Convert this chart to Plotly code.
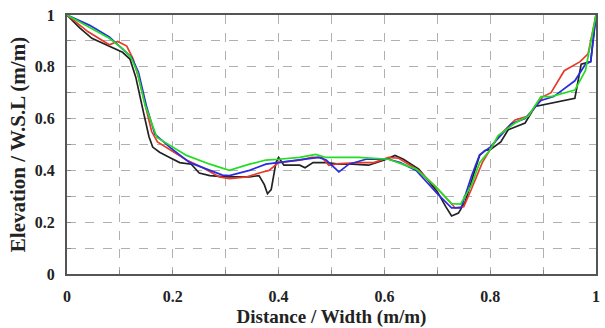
import plotly.graph_objects as go

black_x = [0, 0.024, 0.047, 0.075, 0.105, 0.119, 0.13, 0.145, 0.155, 0.162, 0.175, 0.194, 0.213, 0.235, 0.25, 0.27, 0.30, 0.345, 0.363, 0.373, 0.379, 0.386, 0.395, 0.40, 0.41, 0.44, 0.45, 0.465, 0.49, 0.514, 0.54, 0.57, 0.60, 0.62, 0.636, 0.665, 0.684, 0.70, 0.716, 0.727, 0.74, 0.753, 0.768, 0.78, 0.79, 0.80, 0.82, 0.834, 0.866, 0.885, 0.96, 0.972, 0.99, 1.0]
black_y = [1, 0.95, 0.91, 0.885, 0.856, 0.83, 0.76, 0.62, 0.53, 0.49, 0.47, 0.45, 0.43, 0.424, 0.39, 0.38, 0.375, 0.375, 0.38, 0.345, 0.31, 0.326, 0.43, 0.45, 0.42, 0.42, 0.41, 0.43, 0.43, 0.424, 0.424, 0.42, 0.44, 0.458, 0.443, 0.405, 0.36, 0.318, 0.26, 0.224, 0.235, 0.28, 0.38, 0.458, 0.477, 0.48, 0.51, 0.557, 0.583, 0.647, 0.678, 0.81, 0.82, 1.0]

red_x = [0, 0.04, 0.08, 0.096, 0.113, 0.125, 0.135, 0.15, 0.16, 0.171, 0.194, 0.226, 0.257, 0.288, 0.307, 0.34, 0.37, 0.382, 0.40, 0.44, 0.463, 0.482, 0.495, 0.51, 0.55, 0.58, 0.608, 0.627, 0.665, 0.70, 0.734, 0.75, 0.765, 0.785, 0.80, 0.815, 0.847, 0.872, 0.90, 0.915, 0.94, 0.97, 0.985, 1.0]
red_y = [1, 0.935, 0.885, 0.898, 0.88, 0.83, 0.76, 0.63, 0.55, 0.51, 0.48, 0.44, 0.41, 0.375, 0.368, 0.375, 0.394, 0.40, 0.43, 0.44, 0.45, 0.45, 0.42, 0.425, 0.43, 0.43, 0.45, 0.447, 0.40, 0.33, 0.255, 0.26, 0.33, 0.43, 0.48, 0.53, 0.595, 0.61, 0.685, 0.70, 0.785, 0.82, 0.85, 1.0]

blue_x = [0, 0.043, 0.08, 0.105, 0.122, 0.135, 0.15, 0.166, 0.194, 0.232, 0.264, 0.294, 0.307, 0.345, 0.376, 0.40, 0.458, 0.476, 0.49, 0.505, 0.514, 0.533, 0.565, 0.608, 0.63, 0.66, 0.70, 0.727, 0.745, 0.765, 0.78, 0.80, 0.84, 0.866, 0.896, 0.92, 0.96, 0.98, 0.99, 1.0]
blue_y = [1, 0.96, 0.915, 0.867, 0.837, 0.78, 0.65, 0.54, 0.49, 0.43, 0.405, 0.382, 0.38, 0.40, 0.424, 0.43, 0.443, 0.45, 0.44, 0.41, 0.394, 0.424, 0.443, 0.443, 0.43, 0.40, 0.31, 0.255, 0.255, 0.38, 0.46, 0.49, 0.58, 0.60, 0.67, 0.685, 0.746, 0.81, 0.82, 1.0]

green_x = [0, 0.04, 0.08, 0.105, 0.12, 0.133, 0.148, 0.17, 0.226, 0.27, 0.30, 0.307, 0.345, 0.376, 0.40, 0.44, 0.47, 0.49, 0.552, 0.608, 0.66, 0.697, 0.727, 0.744, 0.765, 0.78, 0.80, 0.815, 0.847, 0.872, 0.896, 0.915, 0.96, 0.98, 1.0]
green_y = [1, 0.955, 0.91, 0.87, 0.84, 0.78, 0.65, 0.527, 0.458, 0.424, 0.405, 0.40, 0.424, 0.44, 0.443, 0.45, 0.462, 0.45, 0.45, 0.443, 0.405, 0.337, 0.272, 0.27, 0.345, 0.43, 0.48, 0.534, 0.583, 0.61, 0.685, 0.685, 0.71, 0.785, 1.0]

tick_vals = [0, 0.2, 0.4, 0.6, 0.8, 1]
tick_text = ["0", "0.2", "0.4", "0.6", "0.8", "1"]

series = [
    (black_x, black_y, "#222222"),
    (red_x, red_y, "#e83a2a"),
    (blue_x, blue_y, "#2b2be0"),
    (green_x, green_y, "#22dd22"),
]

fig = go.Figure()
for xs, ys, c in series:
    fig.add_trace(go.Scatter(x=xs, y=ys, mode="lines", line=dict(color=c, width=1.7), showlegend=False))

font_fam = "Liberation Serif"
axis_common = dict(
    range=[0, 1],
    tickvals=tick_vals,
    ticktext=tick_text,
    showline=True,
    linecolor="#555555",
    linewidth=2,
    mirror=True,
    ticks="inside",
    ticklen=4,
    tickcolor="#888888",
    showgrid=True,
    gridcolor="#b0b0b0",
    griddash="dash",
    gridwidth=1,
    zeroline=False,
    tickfont=dict(family=font_fam, size=16, color="#222222", weight="bold"),
    minor=dict(dtick=0.1, showgrid=True, gridcolor="#b0b0b0", griddash="dash", ticks="inside", ticklen=4, tickcolor="#888888"),
)

fig.update_xaxes(**axis_common, ticklabelstandoff=7, automargin=False,
                 title=dict(text="Distance / Width (m/m)", font=dict(family=font_fam, size=19, color="#222222", weight="bold")))
fig.update_yaxes(**axis_common, ticklabelstandoff=7, automargin=True,
                 title=dict(text="Elevation / W.S.L (m/m)", font=dict(family=font_fam, size=21, color="#222222", weight="bold"), standoff=3))

fig.update_layout(
    width=605, height=328,
    margin=dict(l=67, r=7, t=10, b=54),
    plot_bgcolor="white",
    paper_bgcolor="white",
)

fig.write_html("out.html")
